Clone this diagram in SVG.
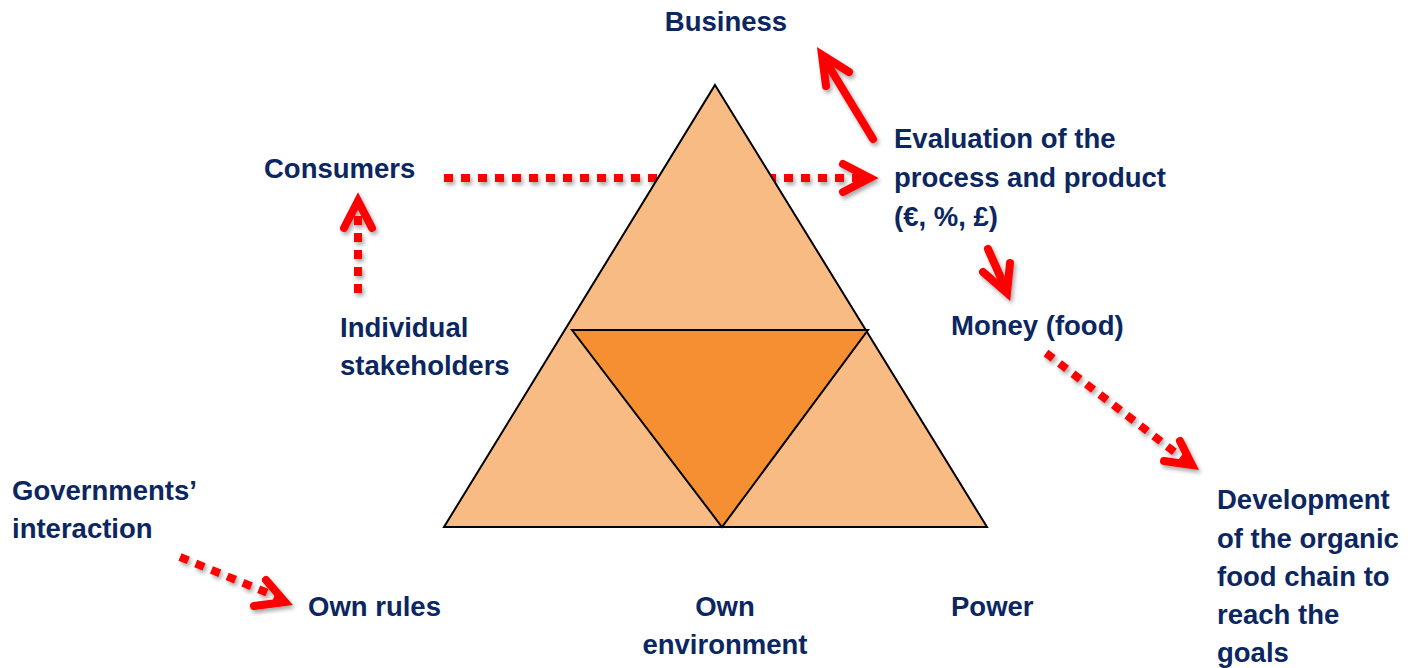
<svg xmlns="http://www.w3.org/2000/svg" width="1412" height="668" viewBox="0 0 1412 668">
<style>
.t{font-family:"Liberation Sans",Arial,sans-serif;font-weight:bold;font-size:27.5px;fill:#0B2660}
.dot{fill:none;stroke:#FF0000;stroke-width:8;stroke-dasharray:9 8}
.sol{fill:none;stroke:#FF0000;stroke-width:8;stroke-linecap:round}
.head{fill:none;stroke:#FF0000;stroke-width:8;stroke-linecap:round;stroke-linejoin:miter}
.lt{fill:#F8BB84;stroke:#000;stroke-width:2;stroke-linejoin:miter}
.dk{fill:#F58F32;stroke:#000;stroke-width:2;stroke-linejoin:miter}
</style>
<defs>
<filter id="sh" x="-20%" y="-20%" width="140%" height="140%">
<feGaussianBlur in="SourceAlpha" stdDeviation="2"/>
<feOffset dx="2" dy="3" result="b"/>
<feComponentTransfer><feFuncA type="linear" slope="0.35"/></feComponentTransfer>
<feMerge><feMergeNode/><feMergeNode in="SourceGraphic"/></feMerge>
</filter>
</defs>
<rect width="1412" height="668" fill="#FFFFFF"/>
<g id="connectors" filter="url(#sh)">
<g id="c-consumers-eval">
<line class="dot" x1="444" y1="178" x2="862" y2="178"/>
<polyline class="head" points="843,164 870,178 843,192"/>
</g>
<g id="c-individual-consumers">
<line class="dot" x1="358" y1="293" x2="358" y2="214"/>
<polyline class="head" points="344,228 358,201 372,228"/>
</g>
<g id="c-eval-business">
<line class="sol" x1="873" y1="139" x2="825" y2="60"/>
<polyline class="head" points="826,86 822,55 849,72"/>
</g>
<g id="c-eval-money">
<line class="sol" x1="988" y1="249" x2="1005" y2="287"/>
<polyline class="head" points="983,272 1007,293 1010,263"/>
</g>
<g id="c-money-development">
<line class="dot" x1="1046" y1="353" x2="1185" y2="460"/>
<polyline class="head" points="1164,461 1192,465 1180,441"/>
</g>
<g id="c-governments-rules">
<line class="dot" x1="180" y1="557" x2="280" y2="598"/>
<polyline class="head" points="254,606 285,602 266,580"/>
</g>
</g>
<g id="triangle">
<polygon class="lt" points="715,85 987,527 444,527"/>
<polygon class="dk" points="572,330 868,330 722,527"/>
</g>
<g id="n-business"><text class="t" x="726" y="31" text-anchor="middle">Business</text></g>
<g id="n-consumers"><text class="t" x="264" y="178">Consumers</text></g>
<g id="n-evaluation"><text class="t" x="894" y="148">Evaluation of the</text><text class="t" x="894" y="187">process and product</text><text class="t" x="894" y="226">(€, %, £)</text></g>
<g id="n-individual"><text class="t" x="340" y="337">Individual</text><text class="t" x="340" y="375">stakeholders</text></g>
<g id="n-money"><text class="t" x="951" y="335">Money (food)</text></g>
<g id="n-governments"><text class="t" x="12" y="500">Governments’</text><text class="t" x="12" y="538">interaction</text></g>
<g id="n-ownrules"><text class="t" x="308" y="616">Own rules</text></g>
<g id="n-ownenv"><text class="t" x="725" y="616" text-anchor="middle">Own</text><text class="t" x="725" y="654" text-anchor="middle">environment</text></g>
<g id="n-power"><text class="t" x="951" y="616">Power</text></g>
<g id="n-development"><text class="t" x="1217" y="509">Development</text><text class="t" x="1217" y="548">of the organic</text><text class="t" x="1217" y="586">food chain to</text><text class="t" x="1217" y="624">reach the</text><text class="t" x="1217" y="662">goals</text></g>
</svg>
